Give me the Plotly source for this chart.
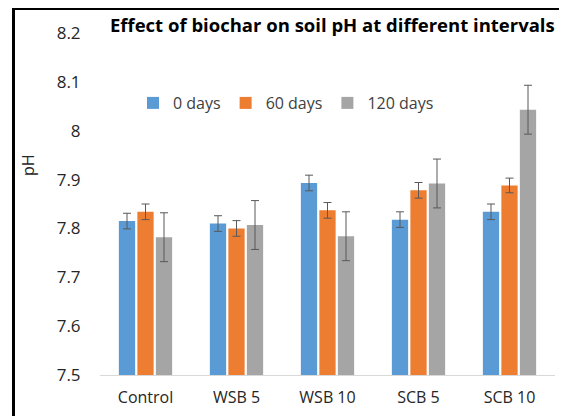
import plotly.graph_objects as go

# Dados
tratamentos = ["Control", "WSB 5", "WSB 10", "SCB 5", "SCB 10"]
ph_0 = [7.815, 7.810, 7.893, 7.818, 7.834]
ph_60 = [7.834, 7.800, 7.837, 7.878, 7.888]
ph_120 = [7.782, 7.807, 7.784, 7.892, 8.043]
err_0 = [0.016, 0.016, 0.016, 0.016, 0.016]
err_60 = [0.016, 0.016, 0.016, 0.016, 0.015]
err_120 = [0.050, 0.050, 0.050, 0.050, 0.050]
y_ticks = [7.5, 7.6, 7.7, 7.8, 7.9, 8.0, 8.1, 8.2]
y_ticklabels = ["7.5", "7.6", "7.7", "7.8", "7.9", "8", "8.1", "8.2"]

series = [
    ("0 days", ph_0, err_0, "#5B9BD5"),
    ("60 days", ph_60, err_60, "#ED7D31"),
    ("120 days", ph_120, err_120, "#A5A5A5"),
]

# a página tem 8px de margem no body, por isso a figura é 8px menor
W, H = 559, 408
L, R, T, B = 92, 12, 25, 41
pw, ph = W - L - R, H - T - B

fig = go.Figure()
for nome, vals, errs, cor in series:
    fig.add_trace(go.Bar(
        x=tratamentos, y=vals, name=nome,
        marker=dict(color=cor, line=dict(width=0)),
        error_y=dict(type="data", array=errs, color="#595959", thickness=1, width=4),
    ))

fig.update_layout(
    width=W, height=H,
    margin=dict(l=L, r=R, t=T, b=B, autoexpand=False),
    plot_bgcolor="white", paper_bgcolor="white",
    font=dict(family="Open Sans, Noto Sans, sans-serif", size=16, color="#262626"),
    barmode="group", bargap=0.39, bargroupgap=0.12,
    title=dict(text="<b>Effect of biochar on soil pH at different intervals</b>",
               x=102 / W, xanchor="left", y=1 - 18 / H, yanchor="middle",
               xref="container", yref="container",
               font=dict(size=18.5, color="black")),
    legend=dict(orientation="h", xref="container", yref="container",
                x=125 / W, y=1 - 95 / H, xanchor="left", yanchor="middle",
                font=dict(size=16, color="#404040"), bgcolor="rgba(0,0,0,0)",
                traceorder="normal", itemwidth=30),
    showlegend=True,
)
# ticks invisíveis só para afastar os rótulos do eixo
fig.update_yaxes(range=[7.5, 8.2], tickvals=y_ticks, ticktext=y_ticklabels,
                 showgrid=False, zeroline=False, showline=False,
                 ticks="outside", ticklen=15, tickcolor="rgba(0,0,0,0)",
                 automargin=False, tickfont=dict(size=17))
fig.update_xaxes(showline=True, linecolor="#D9D9D9", linewidth=1,
                 ticks="outside", ticklen=8, tickcolor="rgba(0,0,0,0)",
                 showgrid=False, automargin=False)

# título do eixo y (posicionado como no original)
fig.add_annotation(text="pH", xref="paper", yref="paper",
                   x=(20 - L) / pw, y=(T + ph - 157) / ph,
                   xanchor="center", yanchor="middle",
                   textangle=-90, showarrow=False, font=dict(size=16, color="#262626"))

# moldura preta (cortada à direita e em baixo)
fig.add_shape(type="rect", xref="paper", yref="paper",
              x0=(5.5 - L) / pw, x1=2, y0=-1, y1=1 + (T - 0.5) / ph,
              line=dict(color="black", width=3))

fig.write_html("out.html")
